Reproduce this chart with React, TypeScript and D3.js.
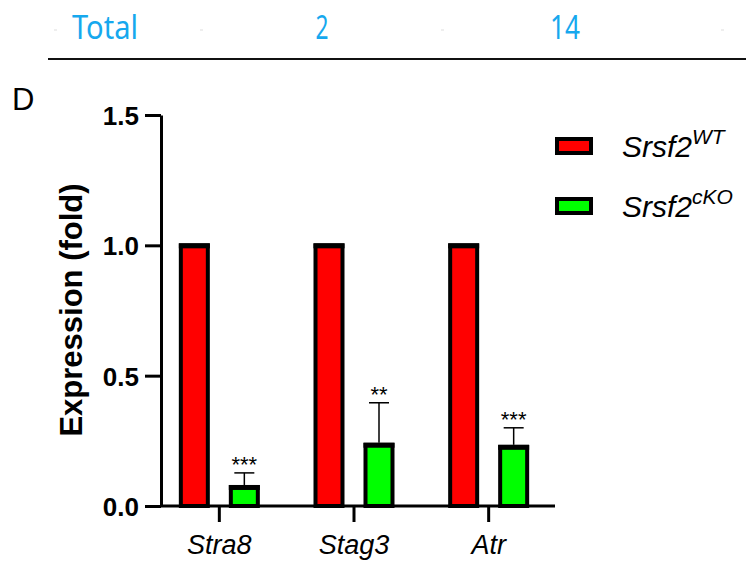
import React, { useEffect, useRef } from 'react';
import * as d3 from 'd3';

const genes = ['Stra8', 'Stag3', 'Atr'];
const wtValues = [1.0, 1.0, 1.0];
const koValues = [0.073, 0.235, 0.227];
const koErrors = [0.054, 0.161, 0.073];
const koStars = ['***', '**', '***'];
const yTicks = [0, 0.5, 1.0, 1.5];
const headerTexts = ['Total', '2', '14'];

const App: React.FC = () => {
  const svgRef = useRef<SVGSVGElement>(null);

  useEffect(() => {
    if (!svgRef.current) return;
    const svg = d3.select(svgRef.current);
    svg.selectAll('*').remove();

    const font = 'Liberation Sans, Arial, sans-serif';

    // header table remnant
    const headerX = [72, 322, 565];
    const headerW = [66, 13, 30];
    svg.selectAll('text.hdr')
      .data(headerTexts)
      .enter()
      .append('text')
      .attr('class', 'hdr')
      .attr('x', (_, i) => (i === 0 ? headerX[i] : headerX[i] - headerW[i] / 2))
      .attr('y', 39)
      .attr('textLength', (_, i) => headerW[i])
      .attr('lengthAdjust', 'spacingAndGlyphs')
      .attr('font-family', 'Noto Sans, sans-serif')
      .attr('font-size', 33)
      .attr('font-weight', 400)
      .attr('fill', '#16a8ee')
      .text(d => d);
    [54, 200, 441, 721].forEach(x => {
      svg.append('line')
        .attr('x1', x).attr('x2', x + 3).attr('y1', 30).attr('y2', 30)
        .attr('stroke', '#ddd').attr('stroke-width', 1);
    });
    svg.append('line')
      .attr('x1', 48).attr('x2', 746).attr('y1', 59).attr('y2', 59)
      .attr('stroke', '#111').attr('stroke-width', 2);

    svg.append('text')
      .attr('x', 12).attr('y', 110)
      .attr('font-family', font).attr('font-size', 31)
      .attr('fill', '#000')
      .text('D');

    // scales
    const y = d3.scaleLinear().domain([0, 1.5]).range([506, 115]);
    const x0 = d3.scaleBand<string>().domain(genes).range([152, 556]).paddingInner(0).paddingOuter(0);
    const sub = d3.scaleOrdinal<string, number>().domain(['wt', 'ko']).range([-25, 25]);
    const barW = 27;

    const g = svg.append('g');

    // bars
    const drawBar = (vals: number[], key: string, fill: string) => {
      g.selectAll(`rect.${key}`)
        .data(vals)
        .enter()
        .append('rect')
        .attr('class', key)
        .attr('x', (_, i) => (x0(genes[i]) as number) + x0.bandwidth() / 2 + sub(key) - barW / 2)
        .attr('y', d => y(d))
        .attr('width', barW)
        .attr('height', d => y(0) - y(d))
        .attr('fill', fill)
        .attr('stroke', '#000')
        .attr('stroke-width', 4);
      // thicker top edge
      g.selectAll(`line.${key}top`)
        .data(vals)
        .enter()
        .append('line')
        .attr('class', `${key}top`)
        .attr('x1', (_, i) => (x0(genes[i]) as number) + x0.bandwidth() / 2 + sub(key) - barW / 2 - 2)
        .attr('x2', (_, i) => (x0(genes[i]) as number) + x0.bandwidth() / 2 + sub(key) + barW / 2 + 2)
        .attr('y1', d => y(d) + 0.5)
        .attr('y2', d => y(d) + 0.5)
        .attr('stroke', '#000')
        .attr('stroke-width', 5);
    };
    drawBar(wtValues, 'wt', '#ff0000');
    drawBar(koValues, 'ko', '#00ff00');

    // error bars + stars
    koValues.forEach((v, i) => {
      const cx = (x0(genes[i]) as number) + x0.bandwidth() / 2 + sub('ko');
      const top = y(v + koErrors[i]);
      g.append('line')
        .attr('x1', cx).attr('x2', cx).attr('y1', y(v) - 2).attr('y2', top)
        .attr('stroke', '#000').attr('stroke-width', 1.5);
      g.append('line')
        .attr('x1', cx - 10).attr('x2', cx + 10).attr('y1', top).attr('y2', top)
        .attr('stroke', '#000').attr('stroke-width', 1.5);
      g.append('text')
        .attr('x', cx).attr('y', top - 1)
        .attr('text-anchor', 'middle')
        .attr('font-family', font).attr('font-size', 22)
        .attr('fill', '#000')
        .text(koStars[i]);
    });

    // y axis
    const yAxis = g.append('g')
      .attr('transform', 'translate(161,0)')
      .call(d3.axisLeft(y).tickValues(yTicks).tickFormat(d3.format('.1f')).tickSize(16).tickSizeOuter(0));
    yAxis.select('.domain').attr('stroke', '#000').attr('stroke-width', 3);
    yAxis.selectAll('.tick line').attr('stroke', '#000').attr('stroke-width', 3);
    yAxis.selectAll('.tick text')
      .attr('font-family', font).attr('font-size', 26).attr('font-weight', 'bold')
      .attr('fill', '#000').attr('x', -22).attr('dy', '0.36em');

    // x axis
    const xAxis = g.append('g')
      .attr('transform', 'translate(0,506)')
      .call(d3.axisBottom(x0).tickSize(16).tickSizeOuter(0));
    xAxis.select('.domain').attr('stroke', '#000').attr('stroke-width', 3)
      .attr('d', 'M160,0H555');
    xAxis.selectAll('.tick line').attr('stroke', '#000').attr('stroke-width', 3);
    xAxis.selectAll('.tick text')
      .attr('font-family', font).attr('font-size', 27).attr('font-style', 'italic')
      .attr('fill', '#000').attr('y', 29).attr('dy', '0.71em');

    // y label
    svg.append('text')
      .attr('transform', 'translate(82,310) rotate(-90)')
      .attr('text-anchor', 'middle')
      .attr('font-family', font).attr('font-size', 31).attr('font-weight', 'bold')
      .attr('fill', '#000')
      .text('Expression (fold)');

    // legend
    const legend = [
      { fill: '#ff0000', sup: 'WT', y: 146 },
      { fill: '#00ff00', sup: 'cKO', y: 206 },
    ];
    legend.forEach(l => {
      svg.append('rect')
        .attr('x', 557).attr('y', l.y - 7).attr('width', 34).attr('height', 14)
        .attr('fill', l.fill).attr('stroke', '#000').attr('stroke-width', 4);
      const t = svg.append('text')
        .attr('x', 622).attr('y', l.y + 11)
        .attr('font-family', font).attr('font-size', 30).attr('font-style', 'italic')
        .attr('fill', '#000');
      t.append('tspan').text('Srsf2');
      t.append('tspan').attr('dy', -13).attr('font-size', 21).text(l.sup);
    });
  }, []);

  return <svg ref={svgRef} width={746} height={562} style={{ display: 'block', position: 'absolute', left: 0, top: 0 }} />;
};

export default App;
